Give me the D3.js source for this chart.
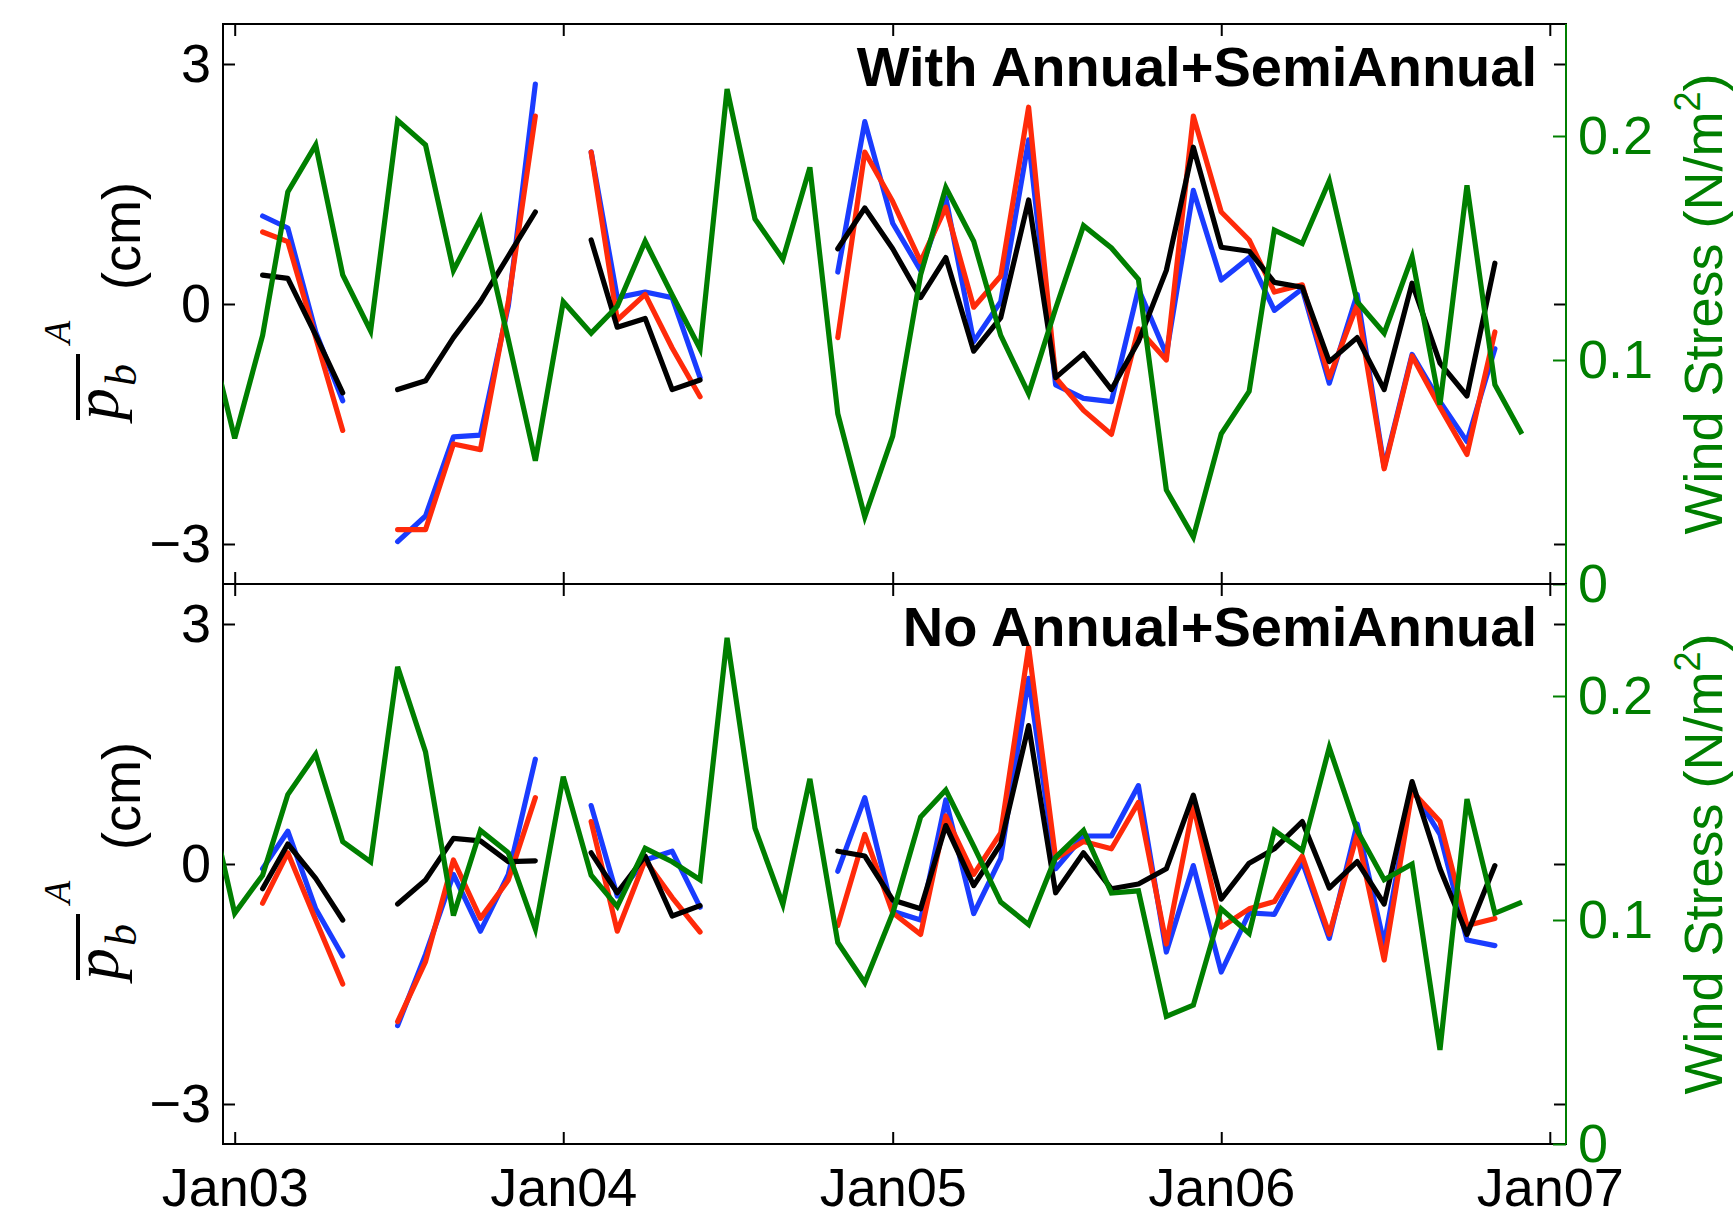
<!DOCTYPE html>
<html>
<head>
<meta charset="utf-8">
<script src="https://cdn.jsdelivr.net/npm/d3@7"></script>
<style>
  body { margin: 0; background: #fff; }
  svg { display: block; font-family: "Liberation Sans", Arial, Helvetica, sans-serif; }
</style>
</head>
<body>
<div id="chart"></div>
<script>
// monthly values, Dec 2002 .. Dec 2006 (null = no data)
const months = d3.timeMonth.range(new Date(2002, 11, 1), new Date(2007, 0, 1));
const xTicks = [2003, 2004, 2005, 2006, 2007].map(yr => new Date(yr, 0, 1));
const pTicks = [-3, 0, 3];
const windTicks = [0, 0.1, 0.2];
const titles = ["With Annual+SemiAnnual", "No Annual+SemiAnnual"];

const blueWith = [null, null, 1.10, 0.95, -0.35, -1.21, null, -2.97, -2.65, -1.66, -1.64, -0.02, 2.75, null,
  1.90, 0.08, 0.15, 0.08, -0.92, null, null, null, null, 0.40, 2.28, 1.01, 0.42, 1.33, -0.47, 0.03, 2.05,
  -1.01, -1.18, -1.22, 0.19, -0.63, 1.42, 0.30, 0.58, -0.08, 0.19, -0.99, 0.12, -2.04, -0.63, -1.22, -1.72, -0.56, null];
const redWith = [null, null, 0.90, 0.78, -0.42, -1.58, null, -2.82, -2.82, -1.75, -1.82, 0.03, 2.35, null,
  1.90, -0.20, 0.12, -0.55, -1.16, null, null, null, null, -0.42, 1.90, 1.28, 0.53, 1.21, -0.04, 0.35, 2.46,
  -0.92, -1.33, -1.63, -0.31, -0.70, 2.35, 1.15, 0.80, 0.15, 0.24, -0.92, -0.01, -2.06, -0.65, -1.29, -1.88, -0.35, null];
const blackWith = [null, null, 0.36, 0.32, -0.39, -1.11, null, -1.07, -0.96, -0.42, 0.03, 0.60, 1.15, null,
  0.80, -0.29, -0.18, -1.07, -0.95, null, null, null, null, 0.69, 1.20, 0.69, 0.08, 0.58, -0.59, -0.17, 1.30,
  -0.92, -0.62, -1.07, -0.47, 0.42, 1.96, 0.71, 0.66, 0.27, 0.21, -0.72, -0.42, -1.07, 0.26, -0.74, -1.15, 0.51, null];
const windWith = [0.116, 0.065, 0.111, 0.175, 0.196, 0.138, 0.113, 0.207, 0.196, 0.140,
  0.163, 0.109, 0.055, 0.126, 0.112, 0.124, 0.153, 0.129, 0.105, 0.221,
  0.163, 0.145, 0.186, 0.076, 0.030, 0.066, 0.138, 0.177, 0.153, 0.111,
  0.085, 0.123, 0.160, 0.150, 0.136, 0.042, 0.021, 0.067, 0.086, 0.158,
  0.152, 0.180, 0.126, 0.112, 0.146, 0.080, 0.178, 0.089, 0.067];

const blueNo = [null, null, -0.06, 0.41, -0.56, -1.15, null, -2.02, -1.13, -0.13, -0.84, -0.13, 1.31, null,
  0.73, -0.40, 0.05, 0.16, -0.54, null, null, null, null, -0.09, 0.83, -0.59, -0.70, 0.80, -0.62, 0.07, 2.32,
  -0.06, 0.35, 0.35, 0.98, -1.10, -0.02, -1.35, -0.61, -0.63, 0.03, -0.93, 0.50, -1.00, 0.94, 0.37, -0.95, -1.02, null];
const redNo = [null, null, -0.49, 0.14, -0.70, -1.50, null, -1.97, -1.22, 0.05, -0.68, -0.20, 0.83, null,
  0.53, -0.84, 0.05, -0.42, -0.85, null, null, null, null, -0.77, 0.37, -0.61, -0.88, 0.60, -0.13, 0.39, 2.71,
  0.07, 0.28, 0.19, 0.77, -1.00, 0.73, -0.79, -0.56, -0.47, 0.10, -0.88, 0.37, -1.20, 0.91, 0.53, -0.77, -0.68, null];
const blackNo = [null, null, -0.31, 0.25, -0.18, -0.70, null, -0.50, -0.20, 0.32, 0.29, 0.03, 0.04, null,
  0.14, -0.36, 0.10, -0.65, -0.52, null, null, null, null, 0.16, 0.10, -0.45, -0.56, 0.48, -0.27, 0.25, 1.73,
  -0.36, 0.14, -0.31, -0.25, -0.06, 0.86, -0.44, 0.01, 0.19, 0.53, -0.30, 0.03, -0.50, 1.03, -0.06, -0.88, -0.02, null];
const windNo = [0.158, 0.103, 0.120, 0.156, 0.174, 0.135, 0.126, 0.213, 0.175, 0.102,
  0.140, 0.130, 0.096, 0.164, 0.120, 0.106, 0.132, 0.126, 0.118, 0.226,
  0.141, 0.107, 0.163, 0.090, 0.072, 0.103, 0.146, 0.158, 0.133, 0.108,
  0.098, 0.128, 0.140, 0.112, 0.113, 0.057, 0.062, 0.105, 0.094, 0.140,
  0.131, 0.177, 0.140, 0.118, 0.125, 0.042, 0.154, 0.103, 0.108];

const panels = [
  { title: titles[0], blue: blueWith, red: redWith, black: blackWith, wind: windWith },
  { title: titles[1], blue: blueNo, red: redNo, black: blackNo, wind: windNo }
];

const W = 1733, H = 1213;
const left = 223, right = 1566, panelH = 560, firstTop = 24;
const green = "#007f00";
const fontSize = 54;
const lw = 5.2;

const x = d3.scaleTime()
  .domain([new Date(2002, 11, 19), new Date(2007, 0, 19)])
  .range([left, right]);

const svg = d3.select("#chart").append("svg")
  .attr("width", W)
  .attr("height", H);

function styleAxis(g, color) {
  g.select(".domain").remove();
  g.attr("font-size", null).attr("font-family", null);
  g.selectAll(".tick line").attr("stroke", color).attr("stroke-width", 2);
  g.selectAll(".tick text").attr("fill", color).attr("font-size", fontSize);
}

panels.forEach((p, k) => {
  const top = firstTop + k * panelH, bot = top + panelH;
  const y = d3.scaleLinear().domain([-3.5, 3.5]).range([bot, top]);
  const yw = d3.scaleLinear().domain([0, 0.25]).range([bot, top]);

  svg.append("clipPath").attr("id", "clip" + k)
    .append("rect").attr("x", left).attr("y", top).attr("width", right - left).attr("height", panelH);

  const g = svg.append("g");

  // pressure series
  const line = d3.line()
    .defined(d => d != null)
    .x((d, i) => x(months[i]))
    .y(d => y(d));
  const plot = g.append("g").attr("clip-path", `url(#clip${k})`);
  [[p.blue, "#1a3cff"], [p.red, "#ff2a0a"], [p.black, "#000"]].forEach(([vals, col]) => {
    plot.append("path")
      .datum(vals)
      .attr("d", line)
      .attr("fill", "none")
      .attr("stroke", col)
      .attr("stroke-width", lw)
      .attr("stroke-linecap", "round")
      .attr("stroke-linejoin", "round");
  });

  // title
  g.append("text")
    .attr("x", 1537)
    .attr("y", top + 62)
    .attr("text-anchor", "end")
    .attr("font-weight", "bold")
    .attr("font-size", 56)
    .text(p.title);

  // frame
  g.append("rect")
    .attr("x", left).attr("y", top)
    .attr("width", right - left).attr("height", panelH)
    .attr("fill", "none").attr("stroke", "#000").attr("stroke-width", 2);

  // left axis + mirrored ticks
  g.append("g").attr("transform", `translate(${left},0)`)
    .call(d3.axisLeft(y).tickValues(pTicks).tickSize(-12).tickPadding(12)
      .tickFormat(d => d < 0 ? "\u2212" + Math.abs(d) : String(d)))
    .call(a => styleAxis(a, "#000"));
  g.append("g").attr("transform", `translate(${right},0)`)
    .call(d3.axisRight(y).tickValues(pTicks).tickSize(-12).tickFormat(""))
    .call(a => styleAxis(a, "#000"));

  // time axes
  g.append("g").attr("transform", `translate(0,${bot})`)
    .call(d3.axisBottom(x).tickValues(xTicks).tickSize(-12).tickPadding(24)
      .tickFormat(k === 1 ? d3.timeFormat("Jan%y") : () => ""))
    .call(a => styleAxis(a, "#000"));
  g.append("g").attr("transform", `translate(0,${top})`)
    .call(d3.axisTop(x).tickValues(xTicks).tickSize(-12).tickFormat(() => ""))
    .call(a => styleAxis(a, "#000"));

  // wind stress (second axis, drawn on top)
  const wline = d3.line()
    .defined(d => d != null)
    .x((d, i) => x(months[i]))
    .y(d => yw(d));
  g.append("g").attr("clip-path", `url(#clip${k})`)
    .append("path")
    .datum(p.wind)
    .attr("d", wline)
    .attr("fill", "none")
    .attr("stroke", green)
    .attr("stroke-width", lw)
    .attr("stroke-linejoin", "miter");

  g.append("g").attr("transform", `translate(${right},0)`)
    .call(d3.axisRight(yw).tickValues(windTicks).tickSize(-13).tickPadding(12)
      .tickFormat(d => d === 0 ? "0" : d3.format(".1f")(d)))
    .call(a => styleAxis(a, green));
  g.append("line")
    .attr("x1", right).attr("x2", right)
    .attr("y1", top).attr("y2", bot)
    .attr("stroke", green).attr("stroke-width", 2);

  // left label: overline p_b ^A (cm)
  const cy = (top + bot) / 2;
  const yl = g.append("g").attr("transform", `translate(140,${cy}) rotate(-90)`);
  const serif = "'Liberation Serif', 'DejaVu Serif', serif";
  yl.append("text").attr("x", -116).attr("y", -22)
    .attr("font-family", serif).attr("font-style", "italic").attr("font-size", 64).text("p");
  yl.append("text").attr("x", -82).attr("y", -4)
    .attr("font-family", serif).attr("font-style", "italic").attr("font-size", 44).text("b");
  yl.append("line").attr("x1", -116).attr("x2", -50).attr("y1", -62).attr("y2", -62)
    .attr("stroke", "#000").attr("stroke-width", 4);
  yl.append("text").attr("x", -40).attr("y", -70)
    .attr("font-family", serif).attr("font-style", "italic").attr("font-size", 38).text("A");
  yl.append("text").attr("x", 14).attr("y", 0)
    .attr("font-size", fontSize).text("(cm)");

  // right label
  const rl = g.append("text")
    .attr("transform", `translate(1722,${cy}) rotate(-90)`)
    .attr("text-anchor", "middle")
    .attr("fill", green)
    .attr("font-size", fontSize);
  rl.append("tspan").text("Wind Stress (N/m");
  rl.append("tspan").attr("font-size", 36).attr("dy", -22).text("2");
  rl.append("tspan").attr("dy", 22).text(")");
});
</script>
</body>
</html>
